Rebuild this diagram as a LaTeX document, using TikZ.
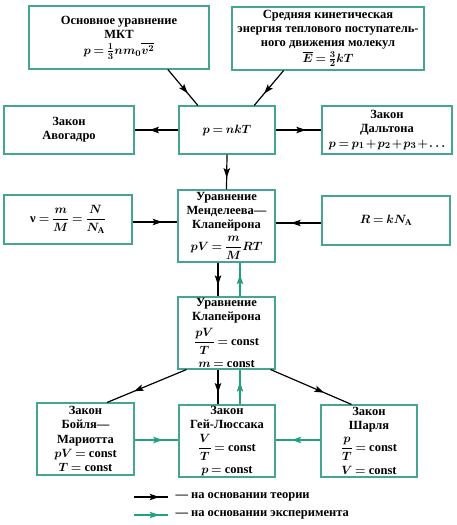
\documentclass[tikz,border=0pt]{standalone}
\usepackage{amsmath}
\usepackage{fontspec}
\setmainfont{Liberation Serif}
\usetikzlibrary{arrows.meta,calc,decorations.markings}
\definecolor{boxc}{RGB}{70,165,145}
\definecolor{grn}{RGB}{35,160,125}
\newcommand{\tightmath}{\medmuskip=2mu\thickmuskip=3.5mu}
\tikzset{
  box/.style={draw=boxc, line width=1.1pt, align=center, inner sep=0pt,
    font=\fontsize{12.5}{14.2}\selectfont\bfseries\boldmath\tightmath},
  midarr/.style={postaction={decorate}, decoration={markings,
    mark=at position #1 with {\arrow{Stealth[length=9.5pt,width=6.5pt,inset=2pt]}}}},
  th/.style={line width=1.2pt, black, midarr=0.66},
  ex/.style={line width=1.2pt, grn, midarr=0.64},
  leg/.style={anchor=west, font=\fontsize{12.5}{14}\selectfont\bfseries}
}
\begin{document}
\begin{tikzpicture}[x=1pt,y=-1pt]
\useasboundingbox (0,0) rectangle (457,525);
\node[box, minimum width=180pt, minimum height=63pt] (mkt) at (119,37.5)
  {Основное уравнение\\МКТ\\[2pt]$p=\frac{1}{3}nm_0\overline{v^2}$};
\node[box, minimum width=192pt, minimum height=63pt] (en) at (328,38.5)
  {Средняя кинетическая\\энергия теплового поступатель-\\ного движения молекул\\[1pt]$\overline{E}=\frac{3}{2}kT$};
\node[box, minimum width=130pt, minimum height=48pt] (avo) at (69,130)
  {Закон\\Авогадро};
\node[box, minimum width=96pt, minimum height=48pt] (pnkt) at (227,130)
  {$p=nkT$};
\node[box, minimum width=130pt, minimum height=48pt] (dal) at (387,130)
  {Закон\\Дальтона\\$\medmuskip=1.5mu p=p_1+p_2+p_3+\ldots$};
\node[box, minimum width=128pt, minimum height=49pt] (nu) at (68,219.5)
  {ν $=\dfrac{m}{M}=\dfrac{N}{N_{\mathrm{A}}}$};
\node[box, minimum width=97pt, minimum height=72pt] (mend) at (226.5,226)
  {Уравнение\\Менделеева—\\Клапейрона\\[4pt]$pV=\dfrac{m}{M}RT$};
\node[box, minimum width=128pt, minimum height=49pt] (rr) at (386,220.5)
  {$R=kN_{\mathrm{A}}$};
\node[box, minimum width=97pt, minimum height=72pt] (clap) at (226.5,333)
  {Уравнение\\Клапейрона\\[4pt]$\dfrac{pV}{T}=$ const\\[5pt]$m=$ const};
\node[box, minimum width=97pt, minimum height=72pt] (boyle) at (85.5,439)
  {Закон\\Бойля—\\Мариотта\\$pV=$ const\\$T=$ const};
\node[box, minimum width=96pt, minimum height=72pt] (gay) at (227,441)
  {Закон\\Гей-Люссака\\[4pt]$\dfrac{V}{T}=$ const\\[5pt]$p=$ const};
\node[box, minimum width=96pt, minimum height=72pt] (charles) at (369,441)
  {Закон\\Шарля\\[4pt]$\dfrac{p}{T}=$ const\\[5pt]$V=$ const};
% theory arrows
\draw[th] ($(mkt.south west)!.77!(mkt.south east)$) -- ($(pnkt.north west)!.2!(pnkt.north east)$);
\draw[th] ($(en.south west)!.27!(en.south east)$) -- ($(pnkt.north west)!.78!(pnkt.north east)$);
\draw[th] (pnkt.west) -- (avo.east);
\draw[th] (pnkt.east) -- (dal.west);
\draw[th] (pnkt.south) -- (mend.north);
\draw[th] ($(nu.east)+(0,2.5)$) coordinate (a1) -- (a1 -| mend.west);
\draw[th] ($(rr.west)+(0,2.5)$) coordinate (a2) -- (a2 -| mend.east);
\draw[th] ($(mend.south)+(-8.5,0)$) coordinate (b1) -- (b1 |- clap.north);
\draw[ex] ($(clap.north)+(13.5,0)$) coordinate (b2) -- (b2 |- mend.south);
\draw[th] ($(clap.south west)+(9,0)$) -- ($(boyle.north west)!.72!(boyle.north east)$);
\draw[th] ($(clap.south east)+(-5,0)$) -- ($(charles.north west)!.32!(charles.north east)$);
\draw[th] ($(clap.south)+(-8.5,0)$) coordinate (c1) -- (c1 |- gay.north);
\draw[ex] ($(gay.north)+(13,0)$) coordinate (c2) -- (c2 |- clap.south);
\draw[ex] ($(boyle.east)+(0,1)$) coordinate (d1) -- (d1 -| gay.west);
\draw[ex] ($(charles.west)+(0,-1)$) coordinate (d2) -- (d2 -| gay.east);
% legend
\coordinate (l1s) at (134,497);
\coordinate (l1e) at (168,497);
\coordinate (l2s) at (134,515);
\coordinate (l2e) at (168,515);
\draw[line width=1.2pt, black, midarr=0.74] (l1s) -- (l1e);
\draw[line width=1.2pt, grn, midarr=0.74] (l2s) -- (l2e);
\node[leg] (t1) at (172,497) {— на основании теории};
\node[leg] (t2) at (172,515) {— на основании эксперимента};
\end{tikzpicture}
\end{document}
